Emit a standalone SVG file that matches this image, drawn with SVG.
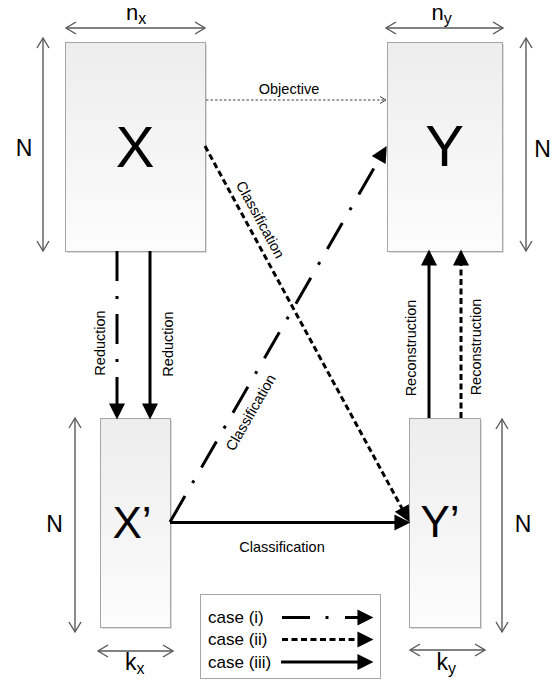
<svg xmlns="http://www.w3.org/2000/svg" width="559" height="689" viewBox="0 0 559 689">
<style>
text{font-family:"Liberation Sans",Arial,sans-serif;fill:#000}
.box{fill:url(#g);stroke:#a6a6a6;stroke-width:1}
.sh{fill:#dcdcdc}
.big{font-size:58px;text-anchor:middle}
.mid{font-size:44px;text-anchor:middle}
.dimt{font-size:23px}
.dimtop{font-size:22px}
.nlab{font-size:23px;text-anchor:middle}
.dim{stroke:#595959;stroke-width:1.4;fill:none;marker-start:url(#dimS);marker-end:url(#dimE)}
.lab{font-size:14.5px;text-anchor:middle}
.thick{stroke:#000;stroke-width:3;fill:none}
.dd{stroke-dasharray:30,15,3,15}
.da{stroke-dasharray:6,3.5}
.ah{marker-end:url(#ah)}
.leg{font-size:17px}
</style>
<defs>
<linearGradient id="g" x1="0" y1="0" x2="0" y2="1">
<stop offset="0" stop-color="#ededed"/>
<stop offset="1" stop-color="#fcfcfc"/>
</linearGradient>
<marker id="ah" markerUnits="userSpaceOnUse" markerWidth="16" markerHeight="16" viewBox="0 0 14 14" refX="4" refY="7" orient="auto" overflow="visible">
<path d="M0,0 L14,7 L0,14 z" fill="#000"/>
</marker>
<marker id="dimE" markerUnits="userSpaceOnUse" markerWidth="14" markerHeight="14" viewBox="0 0 12 14" refX="11" refY="7" orient="auto" overflow="visible">
<path d="M1,1 L11,7 L1,13" fill="none" stroke="#595959" stroke-width="1.4"/>
</marker>
<marker id="dimS" markerUnits="userSpaceOnUse" markerWidth="14" markerHeight="14" viewBox="0 0 12 14" refX="1" refY="7" orient="auto" overflow="visible">
<path d="M11,1 L1,7 L11,13" fill="none" stroke="#595959" stroke-width="1.4"/>
</marker>
<marker id="oa" markerUnits="userSpaceOnUse" markerWidth="8" markerHeight="8" viewBox="0 0 8 8" refX="7" refY="4" orient="auto" overflow="visible">
<path d="M1,0.5 L7,4 L1,7.5" fill="none" stroke="#404040" stroke-width="1"/>
</marker>
</defs>
<rect width="559" height="689" fill="#fff"/>

<g id="node-X">
<rect class="sh" x="67" y="44" width="140" height="209"/>
<rect class="box" x="65.5" y="42.5" width="140" height="209"/>
<text class="big" x="135" y="167">X</text>
<line class="dim" x1="66" y1="28" x2="205" y2="28"/>
<text class="dimtop" x="126" y="20">n<tspan font-size="16" dy="4">x</tspan></text>
<line class="dim" x1="43" y1="38" x2="43" y2="251"/>
<text class="nlab" x="24" y="156">N</text>
</g>

<g id="node-Y">
<rect class="sh" x="389" y="44" width="115" height="209"/>
<rect class="box" x="387.5" y="42.5" width="115" height="209"/>
<text class="big" x="444.5" y="166">Y</text>
<line class="dim" x1="386" y1="28" x2="503" y2="28"/>
<text class="dimtop" x="431.5" y="20">n<tspan font-size="16" dy="4">y</tspan></text>
<line class="dim" x1="526" y1="38" x2="526" y2="251"/>
<text class="nlab" x="542.5" y="157">N</text>
</g>

<g id="node-Xp">
<rect class="sh" x="102" y="420" width="70" height="209"/>
<rect class="box" x="100.5" y="418.5" width="70" height="209"/>
<text class="mid" x="132" y="538">X’</text>
<line class="dim" x1="98" y1="651" x2="173" y2="651"/>
<text class="dimt" x="125" y="670">k<tspan font-size="16" dy="4">x</tspan></text>
<line class="dim" x1="75" y1="418" x2="75" y2="632"/>
<text class="nlab" x="54.5" y="532">N</text>
</g>

<g id="node-Yp">
<rect class="sh" x="411" y="420" width="71" height="209"/>
<rect class="box" x="409.5" y="418.5" width="71" height="209"/>
<text class="mid" x="440" y="537">Y’</text>
<line class="dim" x1="410" y1="650" x2="485" y2="650"/>
<text class="dimt" x="436.5" y="670">k<tspan font-size="16" dy="4">y</tspan></text>
<line class="dim" x1="502" y1="419" x2="502" y2="632"/>
<text class="nlab" x="523" y="532">N</text>
</g>

<g id="connectors">
<line x1="206" y1="100" x2="386" y2="100" stroke="#404040" stroke-width="1" stroke-dasharray="2.5,2" marker-end="url(#oa)"/>
<text class="lab" x="289" y="93.5">Objective</text>
<line class="thick dd ah" x1="117" y1="251" x2="117" y2="408"/>
<line class="thick ah" x1="150" y1="251" x2="150" y2="408"/>
<text class="lab" transform="translate(105,343) rotate(-90)">Reduction</text>
<text class="lab" transform="translate(173,344) rotate(-90)">Reduction</text>
<line class="thick ah" x1="429" y1="418" x2="429" y2="261"/>
<line class="thick da ah" x1="461" y1="418" x2="461" y2="261"/>
<text class="lab" transform="translate(416,348) rotate(-90)">Reconstruction</text>
<text class="lab" transform="translate(481,347) rotate(-90)">Reconstruction</text>
<line class="thick ah" x1="170" y1="522.5" x2="399" y2="522.5"/>
<text class="lab" x="282" y="552">Classification</text>
<line class="thick dd ah" x1="170" y1="522" x2="381" y2="156"/>
<text class="lab" transform="translate(255,415) rotate(-60.1)">Classification</text>
<line class="thick da ah" x1="205" y1="146" x2="404" y2="512"/>
<text class="lab" transform="translate(256,222) rotate(61.4)">Classification</text>
</g>

<g id="legend">
<rect x="200.5" y="594.5" width="180" height="84" fill="#fff" stroke="#a6a6a6" stroke-width="1"/>
<text class="leg" x="208" y="622.5">case (i)</text>
<text class="leg" x="208" y="645">case (ii)</text>
<text class="leg" x="208" y="668">case (iii)</text>
<line class="thick" x1="282" y1="617.5" x2="310" y2="617.5"/>
<line class="thick" x1="325.5" y1="617.5" x2="328.5" y2="617.5"/>
<line class="thick ah" x1="345" y1="617.5" x2="362" y2="617.5"/>
<line class="thick da ah" x1="282" y1="639.5" x2="362" y2="639.5"/>
<line class="thick ah" x1="281" y1="662" x2="362" y2="662"/>
</g>
</svg>
